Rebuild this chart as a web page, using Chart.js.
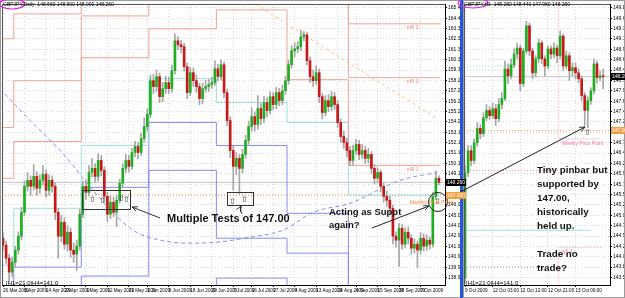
<!DOCTYPE html>
<html><head><meta charset="utf-8">
<script src="https://cdn.jsdelivr.net/npm/chart.js@4.4.1/dist/chart.umd.min.js"></script>
<style>
html,body{margin:0;padding:0;background:#fff}
body{position:relative;width:625px;height:298px;overflow:hidden;font-family:"Liberation Sans",Arial,sans-serif}
canvas{position:absolute;top:0}
#cL{left:0}
#cR{left:463px}
#sep{position:absolute;left:460px;top:0;width:3px;height:298px;background:#2456dc}
.t{position:absolute;font-weight:bold;color:#111;white-space:nowrap}
.s{position:absolute;font-size:5px;line-height:6px;white-space:nowrap}
.arr{position:absolute;font-family:"DejaVu Sans";font-size:8px;line-height:8px;color:#333}
svg{position:absolute;left:0;top:0}
</style></head><body>
<canvas id="cL" width="461" height="298"></canvas>
<div id="sep"></div>
<canvas id="cR" width="162" height="298"></canvas>
<svg width="625" height="298">
<defs><marker id="ah" viewBox="0 0 10 10" refX="9" refY="5" markerWidth="6" markerHeight="6" orient="auto"><path d="M0,1 L9,5 L0,9" fill="none" stroke="#222" stroke-width="1.4"/></marker></defs>
<ellipse cx="12" cy="4" rx="12.5" ry="5" fill="none" stroke="#e020e0" stroke-width="1.2"/>
<ellipse cx="473" cy="3" rx="15" ry="5" fill="none" stroke="#e020e0" stroke-width="1.2"/>
<rect x="82.5" y="190.5" width="48" height="19" fill="none" stroke="#333"/>
<rect x="227.5" y="192.5" width="26" height="13" fill="none" stroke="#333"/>
<line x1="160" y1="218" x2="132" y2="207" stroke="#333" marker-end="url(#ah)"/>
<path d="M242 214 Q239 210 241 206" fill="none" stroke="#333" marker-end="url(#ah)"/>
<line x1="372" y1="228" x2="429" y2="206" stroke="#222" marker-end="url(#ah)"/>
<circle cx="438" cy="202" r="9.5" fill="none" stroke="#222"/>
<line x1="447" y1="199" x2="585" y2="127" stroke="#222" marker-end="url(#ah)"/>
</svg>
<div class="s" style="left:3px;top:1px;color:#000">GBPJPY,Daily&nbsp; 148.660 148.900 148.000 148.260</div>
<div class="s" style="left:464px;top:1px;color:#000">GBPJPY,H1&nbsp; 148.280 148.440 147.980 148.260</div>
<div class="s" style="left:6px;top:280px;color:#000;font-size:6px">[H1=21:0|H4=141:0</div>
<div class="s" style="left:466px;top:280px;color:#000;font-size:6px">[H1=21:0|H4=141:0</div>
<div class="t" style="left:167px;top:212px;font-size:11px;line-height:13px">Multiple Tests of 147.00</div>
<div class="t" style="left:329px;top:205px;font-size:9.5px;line-height:13px">Acting as Suppt<br>again?</div>
<div class="t" style="left:537px;top:163px;font-size:9.8px;line-height:14px">Tiny pinbar but<br>supported by<br>147.00,<br>historically<br>held up.<br><br>Trade no<br>trade?</div>
<div class="arr" style="left:89px;top:196px">⇧</div>
<div class="arr" style="left:99px;top:197px">⇧</div>
<div class="arr" style="left:118px;top:195px">⇧</div>
<div class="arr" style="left:123px;top:196px">⇧</div>
<div class="arr" style="left:229px;top:198px">⇧</div>
<div class="arr" style="left:241px;top:196px">⇧</div>
<div class="arr" style="left:434px;top:198px">⇧</div>
<div class="arr" style="left:584px;top:129px">⇧</div>
<script>
// ---------- Daily GBPJPY candles ----------
const dailyOpen = [142.77,142.09,140.81,139.44,140.42,141.60,142.97,145.32,147.87,148.46,
147.87,148.85,147.68,148.46,149.05,147.48,148.46,147.87,145.32,142.97,
144.34,142.18,143.36,141.60,141.20,141.99,145.13,147.87,147.28,149.24,
149.64,148.85,150.42,149.44,146.89,145.13,146.30,145.32,146.50,148.17,
149.64,150.42,149.83,151.20,151.79,151.20,152.58,153.75,154.93,158.26,
157.68,158.66,156.69,157.48,158.07,157.48,159.24,162.18,161.79,161.60,
159.64,157.09,159.05,158.26,157.68,156.50,157.48,157.68,157.87,158.07,
159.44,158.66,159.83,157.09,154.34,151.40,149.83,150.62,149.64,151.01,
152.38,153.75,154.73,153.95,155.52,154.54,156.11,155.32,156.69,155.91,
157.09,156.30,157.28,158.26,159.83,161.20,161.40,161.60,162.58,162.77,
160.22,158.66,158.26,159.05,156.69,155.13,156.30,155.71,156.69,155.91,
154.15,152.77,152.18,151.40,150.42,151.40,151.99,151.01,151.40,150.62,
151.01,149.64,148.66,149.24,147.87,146.89,146.50,145.71,142.97,142.58,
143.75,142.18,143.36,142.77,141.79,142.18,141.60,142.77,141.99,142.58,
142.18,146.89,148.66];
const dailyHigh = [143.3,142.5,141.2,140.9,142.0,143.4,145.8,148.4,149.2,148.9,
150.0,149.3,149.0,149.9,149.5,149.0,148.9,148.2,145.7,145.0,
144.8,144.0,143.8,142.3,142.6,145.6,148.4,148.5,149.9,150.6,
150.1,151.1,150.9,149.8,147.3,146.9,146.8,147.0,148.6,150.1,
151.0,150.9,151.6,152.3,152.2,153.1,154.6,155.5,158.8,158.9,
159.3,159.0,158.1,158.7,158.6,159.8,162.87,162.6,162.2,161.9,
160.0,159.6,159.5,158.8,158.0,158.0,158.3,158.4,158.6,160.2,
159.9,160.3,160.1,157.4,154.7,151.8,151.2,151.0,151.5,152.9,
154.3,155.6,155.2,156.8,156.0,156.7,156.6,157.2,157.1,157.6,
157.5,157.8,158.7,160.3,161.7,162.0,162.1,163.26,163.1,163.0,
160.6,159.3,159.7,159.4,157.0,156.8,156.9,157.2,157.1,156.3,
154.5,153.3,152.6,151.8,151.9,152.5,152.4,152.0,151.8,151.6,
151.3,150.0,149.7,149.5,148.2,147.4,146.9,146.0,143.4,144.2,
144.1,143.8,143.9,143.1,142.7,142.5,143.3,143.2,143.1,142.9,
147.3,149.4,148.9];
const dailyLow = [141.6,140.3,138.5,139.0,140.0,141.2,142.6,145.0,147.4,147.0,
147.5,147.0,147.2,148.0,146.8,147.0,147.3,144.6,140.8,142.4,
141.7,141.5,140.9,140.4,139.6,141.6,144.8,146.6,146.9,148.8,
148.3,148.4,148.9,146.3,144.4,144.7,144.9,143.9,146.2,147.8,
149.2,149.3,149.5,150.8,150.6,150.9,152.2,153.3,154.6,157.0,
157.2,156.1,156.2,157.0,157.0,157.1,158.9,161.3,161.0,159.2,
156.5,156.8,157.7,157.1,155.9,156.0,157.1,157.2,157.5,157.8,
158.2,158.3,156.6,153.8,150.7,147.5,149.0,147.1,149.2,150.6,
152.0,153.3,153.3,153.5,153.9,154.1,154.7,155.0,155.4,155.5,
155.8,155.9,156.9,157.9,159.5,160.6,161.0,161.2,162.2,159.8,
158.1,157.7,157.9,156.1,154.5,154.8,155.2,155.3,155.4,153.7,
152.2,151.6,150.8,149.9,150.0,151.0,150.5,150.6,150.1,150.2,
149.1,148.1,148.2,147.3,146.3,145.9,145.1,142.2,141.9,140.0,
141.7,141.8,142.2,141.2,141.3,139.9,141.2,141.5,141.6,141.7,
141.9,146.6,148.0];
const dailyClose = [142.09,140.81,139.44,140.42,141.60,142.97,145.32,147.87,148.46,147.87,
148.85,147.68,148.46,149.05,147.48,148.46,147.87,145.32,142.97,144.34,
142.18,143.36,141.60,141.20,141.99,145.13,147.87,147.28,149.24,149.64,
148.85,150.42,149.44,146.89,145.13,146.30,145.32,146.50,148.17,149.64,
150.42,149.83,151.20,151.79,151.20,152.58,153.75,154.93,158.26,157.68,
158.66,156.69,157.48,158.07,157.48,159.24,162.18,161.79,161.60,159.64,
157.09,159.05,158.26,157.68,156.50,157.48,157.68,157.87,158.07,159.44,
158.66,159.83,157.09,154.34,151.40,149.83,150.62,149.64,151.01,152.38,
153.75,154.73,153.95,155.52,154.54,156.11,155.32,156.69,155.91,157.09,
156.30,157.28,158.26,159.83,161.20,161.40,161.60,162.58,162.77,160.22,
158.66,158.26,159.05,156.69,155.13,156.30,155.71,156.69,155.91,154.15,
152.77,152.18,151.40,150.42,151.40,151.99,151.01,151.40,150.62,151.01,
149.64,148.66,149.24,147.87,146.89,146.50,145.71,142.97,142.58,143.75,
142.18,143.36,142.77,141.79,142.18,141.60,142.77,141.99,142.58,142.18,
146.89,148.66,148.26];

// x labels (daily)
const dailyTickIdx = [0,7,14,20,27,34,41,47,54,61,68,75,81,88,95,102,109,115,122,129,136];
const dailyTickLabels = ["26 Mar 2009","6 Apr 2009","14 Apr 2009","23 Apr 2009","1 May 2009","12 May 2009","21 May 2009","1 Jun 2009","9 Jun 2009","18 Jun 2009","29 Jun 2009","7 Jul 2009","16 Jul 2009","27 Jul 2009","4 Aug 2009","13 Aug 2009","24 Aug 2009","4 Sep 2009","15 Sep 2009","28 Sep 2009","7 Oct 2009"];
const dailyPriceTicks = [165.420,164.400,163.380,162.360,161.340,160.320,159.300,158.280,157.260,156.240,155.220,154.200,153.180,152.160,151.140,150.120,149.100,148.080,147.060,146.040,145.020,144.000,142.980,141.960,140.940,139.920,138.900];

// monthly pivot levels (Mar..Oct 2009), month starts in bar index
const monthStart = [-1.5,3.5,25.5,47.5,69.5,92.5,112.5,130.5];
const mR3 = [164.44,162.38,164.83,168,168,168,168,163.85];
const mR2 = [153.16,153.66,158.26,164.63,168,168,168,158.56];
const mR1 = [148.17,148.66,152.28,160.52,163.36,165.22,158.36,149.93];
const mPP = [137.0,140.13,145.71,151.89,158.46,156.11,154.15,147.00];
const mS1 = [134,134,139.93,147.77,154.15,151.89,145.22,134];
const mS2 = [134,134,134,139.05,149.44,142.77,141.30,134];
const mS3 = [134,134,134,134,134,138.85,134,134];

// long dashed average curve and trendline (daily)
const curveIdx = [-1,8.8,18.6,31.6,42.3,51.1,60.9,69.7,80.5,91.2,101,113,129.3,141.4];
const curveVal = [157.48,154.34,151.40,146.69,143.56,142.58,142.28,142.38,142.87,143.56,145.32,146.20,148.46,149.24];
const trendIdx = [80.5,141.4];
const trendVal = [166.11,154.54];
const level147 = 147.00;
const lastPrice = 148.26;

// ---------- H1 candles ----------
const h1Open = [143.55,146.02,146.53,146.30,146.72,147.05,146.93,147.30,147.47,147.35,147.51,147.28,147.61,147.75,148.44,148.28,148.54,148.79,148.93,148.10,148.86,149.45,148.86,148.35,148.68,149.05,148.68,148.51,148.91,148.79,148.93,148.75,149.21,148.51,148.75,148.40,148.47,148.35,148.21,147.82,147.47,147.70,147.93,148.56,148.24,148.28];
const h1High = [146.18,146.65,146.65,146.81,147.19,147.14,147.42,147.61,147.56,147.65,147.61,147.75,147.89,148.63,148.56,148.68,148.91,149.05,149.00,148.93,149.56,149.52,148.93,148.75,149.14,149.10,148.75,148.98,148.98,149.05,149.00,149.33,149.26,148.86,148.82,148.58,148.58,148.44,148.28,147.89,147.79,148.00,148.68,148.63,148.40,148.44];
const h1Low = [143.45,145.93,146.18,146.23,146.63,146.81,146.86,147.23,147.26,147.28,147.12,147.21,147.51,147.70,148.10,148.21,148.47,148.68,147.93,148.03,148.79,148.75,148.21,148.26,148.58,148.56,148.28,148.44,148.68,148.70,148.58,148.68,148.40,148.44,148.17,148.28,148.21,148.12,147.70,147.12,147.07,147.61,147.86,148.12,148.17,147.98];
const h1Close = [146.02,146.53,146.30,146.72,147.05,146.93,147.30,147.47,147.35,147.51,147.28,147.61,147.75,148.44,148.28,148.54,148.79,148.93,148.10,148.86,149.45,148.86,148.35,148.68,149.05,148.68,148.51,148.91,148.79,148.93,148.75,149.21,148.51,148.75,148.40,148.47,148.35,148.21,147.82,147.47,147.70,147.93,148.56,148.24,148.28,148.26];
const h1TickIdx = [0,9,18,27,36];
const h1TickLabels = ["9 Oct 2009","12 Oct 03:00","12 Oct 12:00","12 Oct 21:00","13 Oct 06:00"];
const h1PriceTicks = [149.870,149.628,149.385,149.143,148.900,148.658,148.415,148.173,147.930,147.688,147.445,147.203,146.960,146.718,146.475,146.233,145.990,145.748,145.505,145.263,145.020,144.778,144.535,144.293,144.050,143.808,143.565];
const weekSplit = 30.5;
const prevWeekLevels = [148.51,146.07,143.81];
const thisWeekPP = 146.81;
const thisWeekS1 = 144.27;
const monthlyS1H1 = 144.67;

// ---------- helpers ----------
const UP='#1fae1f', DN='#c81818', WICK='#a6a6a6';
function candles(O,H,L,C){
  return [
    {type:'bar',data:L.map((l,i)=>({x:i,y:[l,H[i]]})),backgroundColor:WICK,barThickness:1,grouped:false,order:2},
    {type:'bar',data:O.map((o,i)=>({x:i,y:[o,C[i]]})),backgroundColor:O.map((o,i)=>C[i]>=o?UP:DN),barThickness:2,grouped:false,order:1,minBarLength:1}
  ];
}
function line(pts,color,opts){
  return Object.assign({type:'line',data:pts,borderColor:color,borderWidth:1,pointRadius:0,fill:false,order:10},opts||{});
}
function steps(levels,color,endX){
  const pts = monthStart.map((s,k)=>({x:s,y:levels[k]}));
  pts.push({x:endX,y:levels[levels.length-1]});
  return line(pts,color,{stepped:'after'});
}
const FONT={size:5,family:'Liberation Sans'};
const XFONT={size:4.6,family:'Liberation Sans'};
function xAxis(min,max,idx,labels){
  return {type:'linear',min,max,offset:false,bounds:'data',
    afterBuildTicks:s=>{s.ticks=idx.map(v=>({value:v}));},
    afterFit:s=>{s.height=13;},
    ticks:{autoSkip:false,maxRotation:0,minRotation:0,align:'start',padding:1,color:'#000',font:XFONT,
      callback:v=>{const k=idx.indexOf(v);return k>=0?labels[k]:'';}},
    grid:{offset:false,color:'#d6dada',tickLength:2,tickColor:'#000'},
    border:{display:true,color:'#000',dash:[1,2]}};
}
function yAxis(min,max,arr,w){
  return {type:'linear',position:'right',min,max,bounds:'data',beginAtZero:false,
    afterBuildTicks:s=>{s.ticks=arr.map(v=>({value:v}));},
    afterFit:s=>{s.width=w;},
    ticks:{autoSkip:false,padding:1,color:'#000',font:FONT,callback:v=>v.toFixed(3)},
    grid:{color:'#d6dada',tickLength:2,tickColor:'#000'},
    border:{display:true,color:'#000',dash:[1,2]}};
}
const frame={id:'frame',afterDraw(c){const ctx=c.ctx,a=c.chartArea;ctx.save();ctx.strokeStyle='#555';ctx.lineWidth=1;
  ctx.beginPath();ctx.moveTo(a.left+0.5,a.bottom);ctx.lineTo(a.left+0.5,a.top+0.5);ctx.lineTo(a.right,a.top+0.5);ctx.stroke();
  ctx.strokeStyle='#999';ctx.strokeRect(0.5,0.5,c.width-1,c.height-1);ctx.restore();}};
const common={animation:false,responsive:false,maintainAspectRatio:false,events:[],
  plugins:{legend:{display:false},tooltip:{enabled:false}}};

// ---------- left (daily) chart ----------
const LX0=-0.33, LX1=143.97;
const left = new Chart(document.getElementById('cL'),{
  type:'bar',
  data:{datasets:[
    steps(mR3,'#f2a294',142.5), steps(mR2,'#f2a294',142.5), steps(mR1,'#f2a294',142.5),
    steps(mPP,'#9fe0e0',142.5),
    steps(mS1,'#8a8af0',142.5), steps(mS2,'#8a8af0',142.5), steps(mS3,'#8a8af0',142.5),
    line(curveIdx.map((x,i)=>({x,y:curveVal[i]})),'#8c8cec',{borderDash:[4,3],tension:0.4,cubicInterpolationMode:'monotone'}),
    line(trendIdx.map((x,i)=>({x,y:trendVal[i]})),'#f7bf8c',{borderDash:[3,3]}),
    line([{x:LX0,y:level147},{x:LX1,y:level147}],'#f0a040',{borderDash:[1,2]}),
    line([{x:LX0,y:lastPrice},{x:LX1,y:lastPrice}],'#c4c4c4'),
    ...candles(dailyOpen,dailyHigh,dailyLow,dailyClose)
  ]},
  options:Object.assign({},common,{layout:{padding:{left:2,top:3,right:0,bottom:0}},
    scales:{x:xAxis(LX0,LX1,dailyTickIdx,dailyTickLabels),y:yAxis(138.17,165.80,dailyPriceTicks,16)}}),
  plugins:[frame]
});

// ---------- right (H1) chart ----------
const RX0=-0.33, RX1=47.23;
const right = new Chart(document.getElementById('cR'),{
  type:'bar',
  data:{datasets:[
    line([{x:RX0,y:prevWeekLevels[0]},{x:weekSplit,y:prevWeekLevels[0]}],'#a8d0d0',{borderDash:[1,2]}),
    line([{x:RX0,y:prevWeekLevels[1]},{x:weekSplit,y:prevWeekLevels[1]}],'#f08ab0',{borderDash:[1,2]}),
    line([{x:RX0,y:prevWeekLevels[2]},{x:weekSplit,y:prevWeekLevels[2]}],'#c080d0',{borderDash:[1,2]}),
    line([{x:weekSplit,y:151},{x:weekSplit,y:thisWeekPP},{x:44.5,y:thisWeekPP}],'#f08ab0',{borderDash:[1,2]}),
    line([{x:weekSplit,y:143},{x:weekSplit,y:thisWeekS1},{x:44.5,y:thisWeekS1}],'#f08ab0',{borderDash:[1,2]}),
    line([{x:0,y:monthlyS1H1},{x:41,y:monthlyS1H1}],'#9fe0e0'),
    line([{x:RX0,y:level147},{x:RX1,y:level147}],'#f0a040',{borderDash:[1,2]}),
    line([{x:RX0,y:lastPrice},{x:RX1,y:lastPrice}],'#c4c4c4'),
    ...candles(h1Open,h1High,h1Low,h1Close)
  ]},
  options:Object.assign({},common,{layout:{padding:{left:1,top:3,right:0,bottom:0}},
    scales:{x:xAxis(RX0,RX1,h1TickIdx,h1TickLabels),y:yAxis(143.39,149.96,h1PriceTicks,15)}}),
  plugins:[frame]
});

// ---------- labels placed through the scales ----------
function addDiv(text,l,t,st){const d=document.createElement('div');d.className='s';d.textContent=text;d.style.left=l+'px';d.style.top=t+'px';Object.assign(d.style,st||{});document.body.appendChild(d);return d;}
const lx=left.scales.x, ly=left.scales.y, rx=right.scales.x, ry=right.scales.y;
const oct=lx.getPixelForValue(monthStart[7]);
addDiv('mR 3',oct+3,ly.getPixelForValue(mR3[7])+0.5,{color:'#f08a7a'});
addDiv('mR 2',oct+3,ly.getPixelForValue(mR2[7])+0.5,{color:'#f08a7a'});
addDiv('mR 1',oct+3,ly.getPixelForValue(mR1[7])+0.5,{color:'#f08a7a'});
addDiv('Monthly Pivot Point',oct+6,ly.getPixelForValue(level147)+4,{color:'#f08a40'});
const ws=463+rx.getPixelForValue(weekSplit);
addDiv('Weekly Pivot Point',ws+3,ry.getPixelForValue(thisWeekPP)+1,{color:'#f070a0'});
addDiv('wS 1',ws+3,ry.getPixelForValue(thisWeekS1)+0.5,{color:'#f070a0'});
function box(text,l,t,bg,fg){const d=addDiv(text,l,t,{background:bg,color:fg,padding:'0 1px',lineHeight:'7px',height:'7px'});return d;}
box(lastPrice.toFixed(3),446,ly.getPixelForValue(lastPrice)-3.5,'#000','#fff');
box(level147.toFixed(3),446,ly.getPixelForValue(level147)-3.5,'#f0a040','#fff');
box(lastPrice.toFixed(3),611,ry.getPixelForValue(lastPrice)-3.5,'#000','#fff');
box(level147.toFixed(3),611,ry.getPixelForValue(level147)-3.5,'#f0a040','#fff');
</script>
</body></html>
